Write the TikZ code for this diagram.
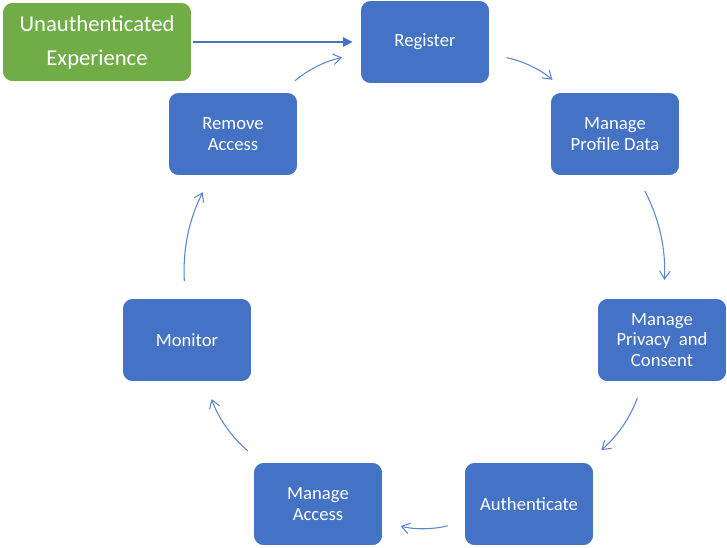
\documentclass[tikz,border=0pt]{standalone}
\usepackage{fontspec}
\setmainfont{Carlito}
\usepackage{xcolor}
\usepackage{tikz}
\usetikzlibrary{arrows.meta,positioning}

\definecolor{stageblue}{HTML}{4472C4}
\definecolor{guestgreen}{HTML}{70AD47}
\definecolor{linkblue}{HTML}{5A86D0}

\begin{document}
\begin{tikzpicture}[x=0.75pt, y=-0.75pt,
    stage/.style={rectangle, draw=white, line width=1.2pt, rounded corners=8pt, minimum width=97.5pt, minimum height=63pt, fill=stageblue, text=white, align=center, font=\fontsize{14}{15.5}\selectfont},
    guest/.style={stage, fill=guestgreen, minimum width=142.5pt, minimum height=60pt, font=\fontsize{17}{25.5}\selectfont},
    flow/.style={-{Straight Barb[length=6pt,width=8pt]}, linkblue, line width=0.8pt, shorten <=12pt, shorten >=13pt, bend left=15},
    entry/.style={-{Triangle[length=7pt,width=7pt]}, stageblue, line width=0.8pt, shorten >=5pt}]

    \useasboundingbox (0,0) rectangle (727,547);

    % Entry point
    \node[guest] (unauth) at (97,42) {Unauthenticated\\Experience};

    % Lifecycle stages, clockwise
    \node[stage] (register) at (425,42) {Register};
    \node[stage] (profile) at (615,134) {Manage\\Profile Data};
    \node[stage] (privacy) at (662,340) {Manage\\Privacy \ and\\Consent};
    \node[stage] (authn) at (529,504) {Authenticate};
    \node[stage] (access) at (318,504) {Manage\\Access};
    \node[stage] (monitor) at (187,340) {Monitor};
    \node[stage] (remove) at (233,134) {Remove\\Access};

    % Connections
    \draw[entry] (unauth) -- (register);
    \draw[flow] (register) to (profile);
    \draw[flow] (profile) to (privacy);
    \draw[flow] (privacy) to (authn);
    \draw[flow] (authn) to (access);
    \draw[flow] (access) to (monitor);
    \draw[flow] (monitor) to (remove);
    \draw[flow] (remove) to (register);
\end{tikzpicture}
\end{document}
